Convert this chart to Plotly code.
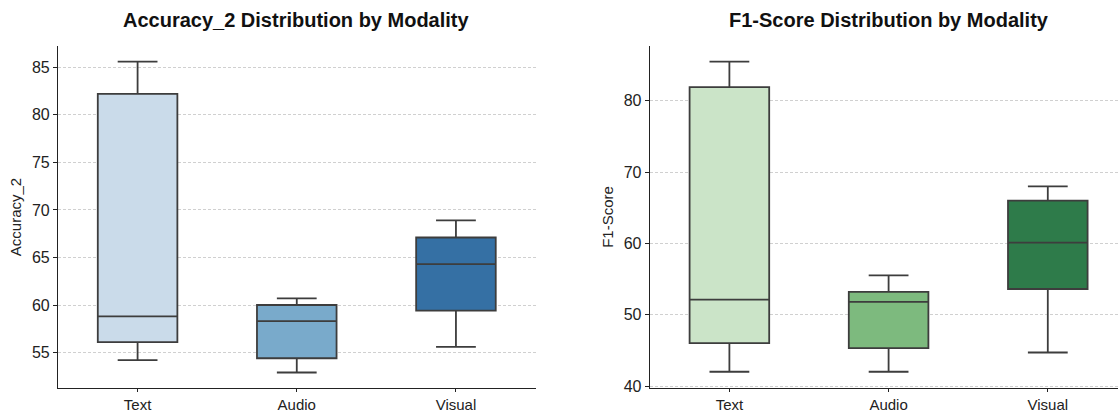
import plotly.graph_objects as go

categories = ["Text", "Audio", "Visual"]

# Accuracy_2 box statistics
acc_low = [54.2, 52.9, 55.6]
acc_q1 = [56.1, 54.4, 59.4]
acc_med = [58.8, 58.3, 64.3]
acc_q3 = [82.2, 60.0, 67.1]
acc_high = [85.6, 60.7, 68.9]

# F1-Score box statistics
f1_low = [42.0, 42.0, 44.7]
f1_q1 = [46.0, 45.3, 53.6]
f1_med = [52.1, 51.8, 60.1]
f1_q3 = [81.9, 53.2, 66.0]
f1_high = [85.5, 55.5, 68.0]

blues = ["#cadbea", "#79aacb", "#3570a4"]
greens = ["#cbe4c8", "#7dba7e", "#2e7b4a"]

acc_ticks = [55, 60, 65, 70, 75, 80, 85]
f1_ticks = [40, 50, 60, 70, 80]

fig = go.Figure()
line_col = "#3d3d3d"

for i, c in enumerate(categories):
    fig.add_trace(go.Box(
        x=[c], q1=[acc_q1[i]], median=[acc_med[i]], q3=[acc_q3[i]],
        lowerfence=[acc_low[i]], upperfence=[acc_high[i]],
        fillcolor=blues[i], line=dict(color=line_col, width=1.8),
        width=0.5, whiskerwidth=0.5, boxpoints=False, showlegend=False,
        xaxis="x", yaxis="y", hoverinfo="skip"))
    fig.add_trace(go.Box(
        x=[c], q1=[f1_q1[i]], median=[f1_med[i]], q3=[f1_q3[i]],
        lowerfence=[f1_low[i]], upperfence=[f1_high[i]],
        fillcolor=greens[i], line=dict(color=line_col, width=1.8),
        width=0.5, whiskerwidth=0.5, boxpoints=False, showlegend=False,
        xaxis="x2", yaxis="y2", hoverinfo="skip"))

font = "Liberation Sans, Arial, sans-serif"
axis_common = dict(
    showline=True, linecolor="#222222", linewidth=1.2,
    tickwidth=1.2, tickcolor="#222222",
    zeroline=False, automargin=False,
)
xtick = dict(ticks="outside", ticklen=3, tickfont=dict(family=font, size=15, color="#222222"))
ytick = dict(ticks="outside", ticklen=4, tickfont=dict(family=font, size=16, color="#222222"))

fig.update_layout(
    width=1118, height=414,
    margin=dict(l=58, r=0, t=46, b=26),
    paper_bgcolor="white", plot_bgcolor="white",
    font=dict(family=font, color="#222222"),
    xaxis=dict(domain=[0, 0.4505], type="category", categoryorder="array",
               categoryarray=categories, range=[-0.5, 2.5], showgrid=False,
               **xtick, **axis_common),
    yaxis=dict(range=[51.27, 87.24], tickvals=acc_ticks, showgrid=True,
               gridcolor="#d0d0d0", griddash="3px,2px", gridwidth=1,
               title=dict(text="Accuracy_2", font=dict(family=font, size=15, color="#222222"), standoff=6),
               **ytick, **axis_common),
    xaxis2=dict(domain=[0.5583, 1], type="category", categoryorder="array",
                categoryarray=categories, range=[-0.5, 2.441], showgrid=False,
                anchor="y2", **xtick, **axis_common),
    yaxis2=dict(range=[39.72, 87.68], tickvals=f1_ticks, showgrid=True,
                gridcolor="#d0d0d0", griddash="3px,2px", gridwidth=1, anchor="x2",
                title=dict(text="F1-Score", font=dict(family=font, size=15, color="#222222"), standoff=6),
                **ytick, **axis_common),
    annotations=[
        dict(text="<b>Accuracy_2 Distribution by Modality</b>", xref="x", yref="paper",
             x=1, y=1.0756, xanchor="center", yanchor="middle", showarrow=False,
             font=dict(family=font, size=20, color="#111111")),
        dict(text="<b>F1-Score Distribution by Modality</b>", xref="x2", yref="paper",
             x=1, y=1.0756, xanchor="center", yanchor="middle", showarrow=False,
             font=dict(family=font, size=20, color="#111111")),
    ],
)

fig.write_html("out.html")
